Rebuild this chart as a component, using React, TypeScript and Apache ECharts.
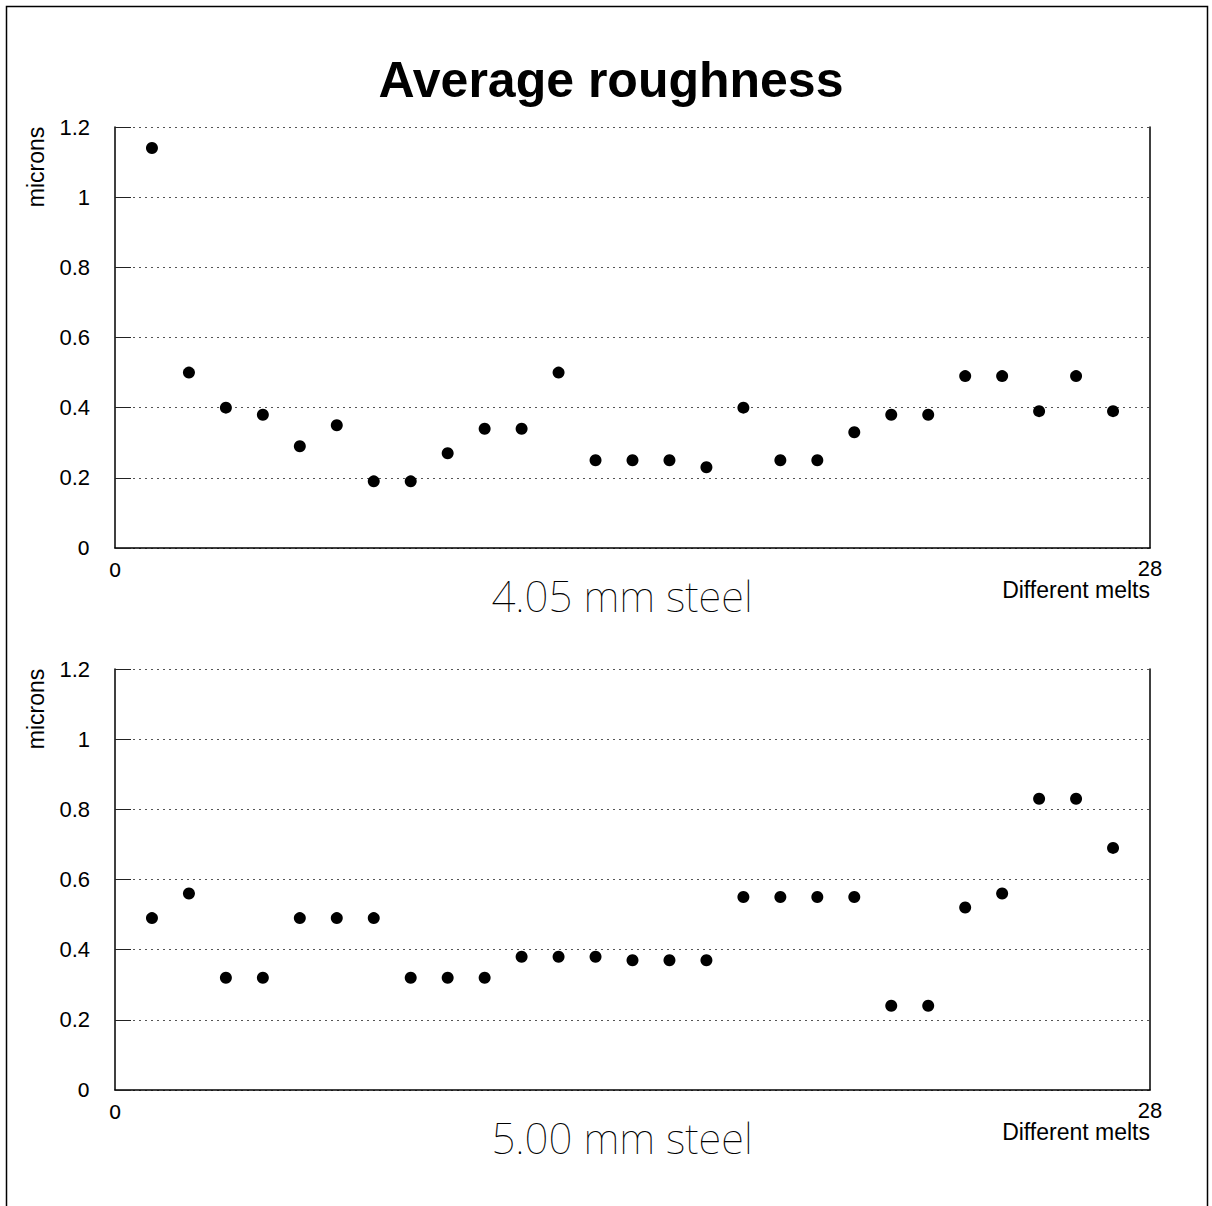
import React, { useEffect, useRef } from "react";
import * as echarts from "echarts";

// Melt numbers along the x axis
const melts = [1, 2, 3, 4, 5, 6, 7, 8, 9, 10, 11, 12, 13, 14, 15, 16, 17, 18, 19, 20, 21, 22, 23, 24, 25, 26, 27];

// Average roughness (microns), 4.05 mm steel
const steel405 = [1.14, 0.5, 0.4, 0.38, 0.29, 0.35, 0.19, 0.19, 0.27, 0.34, 0.34, 0.5, 0.25, 0.25, 0.25, 0.23, 0.4, 0.25, 0.25, 0.33, 0.38, 0.38, 0.49, 0.49, 0.39, 0.49, 0.39];

// Average roughness (microns), 5.00 mm steel
const steel500 = [0.49, 0.56, 0.32, 0.32, 0.49, 0.49, 0.49, 0.32, 0.32, 0.32, 0.38, 0.38, 0.38, 0.37, 0.37, 0.37, 0.55, 0.55, 0.55, 0.55, 0.24, 0.24, 0.52, 0.56, 0.83, 0.83, 0.69];

const titleText = "Average roughness";
const panelTitles = ["4.05 mm steel", "5.00 mm steel"];
const yName = "microns";
const xName = "Different melts";
const xRange = [0, 28];
const yRange = [0, 1.2];
const yStep = 0.2;

const FONT = "'Liberation Sans', Arial, sans-serif";

const PLOT_LEFT = 115;
const PLOT_WIDTH = 1035;
const PLOT_HEIGHT = 421;
const PLOT_TOPS = [127, 669];

export default function App() {
  const ref = useRef<HTMLDivElement>(null);

  useEffect(() => {
    if (!ref.current) return;
    const chart = echarts.init(ref.current, null, { renderer: "svg" });

    const grids = PLOT_TOPS.map((top) => ({
      left: PLOT_LEFT,
      top,
      width: PLOT_WIDTH,
      height: PLOT_HEIGHT,
      containLabel: false,
    }));

    const xAxes = PLOT_TOPS.map((_, i) => ({
      type: "value",
      gridIndex: i,
      min: xRange[0],
      max: xRange[1],
      interval: xRange[1] - xRange[0],
      axisLine: { show: true, onZero: false, lineStyle: { color: "#000", width: 1.5 } },
      axisTick: { show: false },
      splitLine: { show: false },
      axisLabel: {
        margin: 9,
        fontFamily: FONT,
        fontSize: 22,
        color: "#000",
        formatter: (v: number) => (v === 0 ? "{z|0}" : String(v)),
        rich: { z: { fontFamily: "'DejaVu Sans', sans-serif", fontSize: 20, color: "#000", padding: [3, 0, 0, 0] } },
      },
    }));

    const yAxes: any[] = [];
    PLOT_TOPS.forEach((_, i) => {
      yAxes.push({
        type: "value",
        gridIndex: i,
        min: yRange[0],
        max: yRange[1],
        interval: yStep,
        position: "left",
        axisLine: { show: true, onZero: false, lineStyle: { color: "#000", width: 1.5 } },
        axisTick: { show: true, inside: true, length: 16, lineStyle: { color: "#222", width: 1 } },
        splitLine: { show: true, lineStyle: { color: "#555", width: 1, type: [2, 4] } },
        axisLabel: {
          margin: 25,
          fontFamily: FONT,
          fontSize: 22,
          color: "#000",
          formatter: (v: number) => (v === 0 ? "{z|0}" : String(Math.round(v * 10) / 10)),
          rich: { z: { fontFamily: "'DejaVu Sans', sans-serif", fontSize: 20, color: "#000" } },
        },
      });
      // right-hand frame line
      yAxes.push({
        type: "value",
        gridIndex: i,
        min: yRange[0],
        max: yRange[1],
        position: "right",
        axisLine: { show: true, onZero: false, lineStyle: { color: "#000", width: 1.5 } },
        axisTick: { show: false },
        axisLabel: { show: false },
        splitLine: { show: false },
      });
    });

    const makeSeries = (values: number[], i: number) => ({
      type: "scatter",
      xAxisIndex: i,
      yAxisIndex: i * 2,
      symbol: "circle",
      symbolSize: 12,
      itemStyle: { color: "#000", opacity: 1 },
      data: melts.map((m, k) => [m, values[k]]),
    });

    const panelText = (top: number, idx: number) => [
      {
        type: "text",
        x: 36,
        y: top + 40,
        rotation: Math.PI / 2,
        style: { text: yName, font: `23px ${FONT}`, fill: "#000", align: "center", verticalAlign: "middle" },
      },
      {
        type: "text",
        x: PLOT_LEFT + PLOT_WIDTH,
        y: top + PLOT_HEIGHT + 42,
        style: { text: xName, font: `23px ${FONT}`, fill: "#000", align: "right", verticalAlign: "middle" },
      },
      {
        type: "text",
        x: 622,
        y: top + PLOT_HEIGHT + 47,
        style: {
          text: panelTitles[idx],
          font: `100 42px 'Noto Sans', 'DejaVu Sans', sans-serif`,
          fill: "#000",
          align: "center",
          verticalAlign: "middle",
        },
      },
    ];

    chart.setOption({
      animation: false,
      backgroundColor: "#fff",
      grid: grids,
      xAxis: xAxes,
      yAxis: yAxes,
      series: [makeSeries(steel405, 0), makeSeries(steel500, 1)],
      graphic: [
        {
          type: "rect",
          shape: { x: 6.5, y: 6.5, width: 1201, height: 1220 },
          style: { fill: "none", stroke: "#000", lineWidth: 1.5 },
          silent: true,
        },
        {
          type: "text",
          x: 611,
          y: 80,
          style: { text: titleText, font: `bold 50px ${FONT}`, fill: "#000", align: "center", verticalAlign: "middle" },
        },
        ...panelText(PLOT_TOPS[0], 0),
        ...panelText(PLOT_TOPS[1], 1),
      ],
    });

    return () => chart.dispose();
  }, []);

  return (
    <div
      ref={ref}
      style={{ position: "absolute", left: 0, top: 0, width: 1212, height: 1206, background: "#fff" }}
    />
  );
}
